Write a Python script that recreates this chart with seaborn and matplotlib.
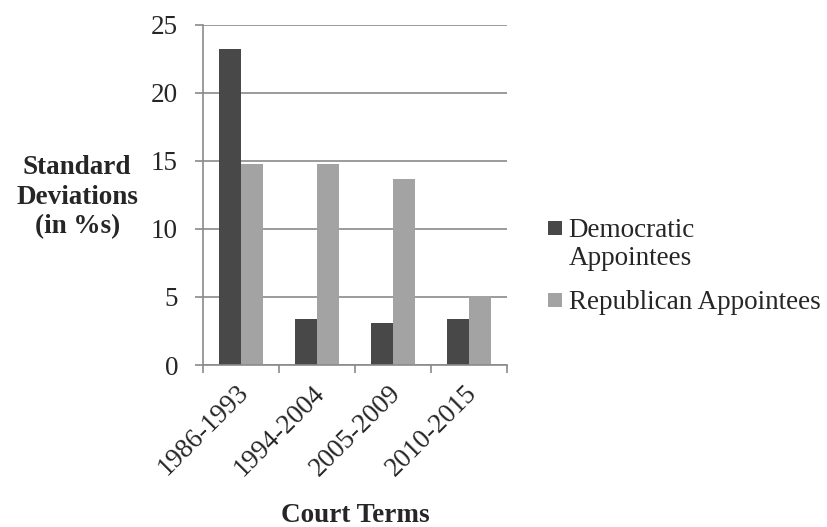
import matplotlib
matplotlib.use("Agg")
import matplotlib.pyplot as plt
import matplotlib.transforms as mtransforms
import seaborn as sns
import pandas as pd
from matplotlib.patches import Patch, Rectangle
from matplotlib.legend_handler import HandlerBase

terms = ["1986-1993", "1994-2004", "2005-2009", "2010-2015"]
democratic = [23.2, 3.4, 3.1, 3.4]
republican = [14.8, 14.8, 13.7, 5.1]
series = ["Democratic\nAppointees", "Republican Appointees"]
colors = ["#484848", "#a3a3a3"]

df = pd.DataFrame({
    "term": terms * 2,
    "value": democratic + republican,
    "party": [series[0]] * 4 + [series[1]] * 4,
})

sns.set_style("white")
plt.rcParams["font.family"] = ["Liberation Serif", "DejaVu Serif"]

FS = 19.5


class TopPatch(HandlerBase):
    def __init__(self, shift=0.0):
        super().__init__()
        self.shift = shift

    def create_artists(self, legend, orig_handle, xdescent, ydescent, width,
                       height, fontsize, trans):
        size = min(width, height)
        r = Rectangle((-xdescent, -ydescent + (height - size) / 2 + self.shift),
                      size, size, facecolor=orig_handle.get_facecolor(),
                      edgecolor="none", transform=trans)
        return [r]


fig = plt.figure(figsize=(8.27, 5.27), dpi=100)
ax = fig.add_axes([0.2455, 0.3074, 0.3675, 0.6452])
sns.barplot(data=df, x="term", y="value", hue="party", palette=colors,
            width=0.571, ax=ax, legend=False, saturation=1, edgecolor="none")

ax.set_ylim(0, 25)
ax.set_xlim(-0.5, 3.5)
ax.set_yticks([0, 5, 10, 15, 20, 25])
ax.yaxis.grid(True, color="#8a8a8a", linewidth=1.2)
ax.set_axisbelow(True)
for s in ["top", "right"]:
    ax.spines[s].set_visible(False)
ax.spines["left"].set_color("#8a8a8a")
ax.spines["bottom"].set_color("#8a8a8a")
ax.spines["left"].set_linewidth(1.2)
ax.spines["bottom"].set_linewidth(1.2)

ax.tick_params(axis="y", length=6, width=1.2, color="#8a8a8a", labelsize=FS, pad=12, left=True)
ax.set_xticks([0, 1, 2, 3])
ax.set_xticklabels(terms, rotation=45, ha="right", rotation_mode="anchor", fontsize=FS)
ax.set_xticks([-0.5, 0.5, 1.5, 2.5, 3.5], minor=True)
ax.tick_params(axis="x", which="major", length=0, pad=11)
ax.tick_params(axis="x", which="minor", length=6, width=1.2, color="#8a8a8a", bottom=True)
offset = mtransforms.ScaledTranslation(-5 / 100, 0, fig.dpi_scale_trans)
for lab in ax.get_xticklabels():
    lab.set_transform(lab.get_transform() + offset)

ax.set_xlabel("Court Terms", fontsize=FS, fontweight="bold", va="baseline")
ax.xaxis.set_label_coords(0.5, -0.462)
ax.set_ylabel("Standard\nDeviations\n(in %s)", fontsize=FS, fontweight="bold",
              rotation=0, ha="center", va="center", linespacing=1.25)
ax.yaxis.set_label_coords(-0.414, 0.494)

handles = [Patch(facecolor=c, edgecolor="none") for c in colors]
leg = fig.legend(handles, series, loc="center left", bbox_to_anchor=(0.633, 0.494),
                 frameon=False, fontsize=FS, handlelength=0.52, handleheight=0.52,
                 handletextpad=0.25, labelspacing=0.72,
                 handler_map={handles[0]: TopPatch(shift=FS * 0.6), handles[1]: TopPatch()})
for t in leg.get_texts():
    t.set_linespacing(1.15)

fig.savefig("out.png", dpi=100)
